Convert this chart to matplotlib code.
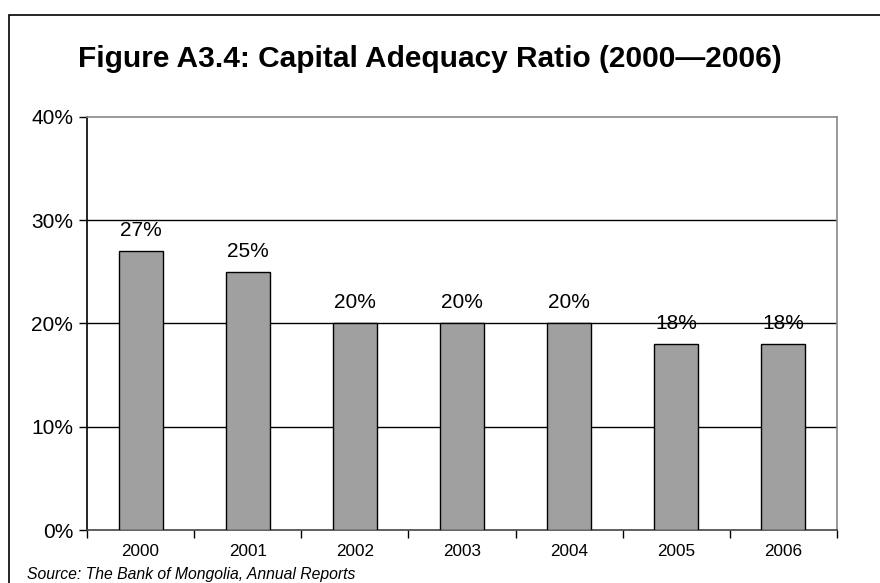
import matplotlib
matplotlib.use("Agg")
import matplotlib.pyplot as plt
from matplotlib.patches import Rectangle
from matplotlib.ticker import FixedLocator, FuncFormatter

plt.rcParams['font.family'] = ['Liberation Sans', 'DejaVu Sans']

years = ["2000", "2001", "2002", "2003", "2004", "2005", "2006"]
values = [27, 25, 20, 20, 20, 18, 18]
labels = ["27%", "25%", "20%", "20%", "20%", "18%", "18%"]
yticks = [0, 10, 20, 30, 40]

fig = plt.figure(figsize=(8.8, 5.83), dpi=100)
# outer frame
fig.patches.append(Rectangle((9/880, -0.1), 1.2, (583-15)/583 + 0.1,
                             transform=fig.transFigure, fill=False,
                             edgecolor='black', linewidth=1.2, clip_on=False))

ax = fig.add_axes([87/880, 53/583, 750/880, (530-117)/583])
x = list(range(len(years)))
ax.bar(x, values, width=0.41, color='#A0A0A0', edgecolor='black', linewidth=1, zorder=3)
for xi, v, lab in zip(x, values, labels):
    ax.text(xi, v + 1.1, lab, ha='center', va='bottom', fontsize=15)

ax.set_xlim(-0.5, len(years) - 0.5)
ax.set_ylim(0, 40)
ax.set_yticks(yticks)
ax.yaxis.set_major_formatter(FuncFormatter(lambda v, p: f"{int(v)}%"))
for t in yticks[1:4]:
    ax.axhline(t, color='black', linewidth=1, zorder=1)
ax.set_xticks(x)
ax.set_xticklabels(years, fontsize=12.3)
ax.xaxis.set_minor_locator(FixedLocator([i - 0.5 for i in range(len(years) + 1)]))
ax.tick_params(axis='x', which='major', length=0, pad=10)
ax.tick_params(axis='x', which='minor', length=6, direction='out', width=1)
ax.tick_params(axis='y', length=6, direction='out', width=1, labelsize=15, pad=4)

ax.spines['top'].set_color('#888888')
ax.spines['right'].set_color('#888888')
ax.spines['left'].set_color('black')
ax.spines['bottom'].set_color('#444444')
for s in ax.spines.values():
    s.set_linewidth(1.2)

fig.text(430/880, 1 - 59/583, "Figure A3.4: Capital Adequacy Ratio (2000\u20142006)",
         ha='center', va='center', fontsize=21.5, fontweight='bold')
fig.text(27/880, 1 - 579/583, "Source: The Bank of Mongolia, Annual Reports",
         ha='left', va='baseline', fontsize=11.3, style='italic')

fig.savefig("out.png", dpi=100)
